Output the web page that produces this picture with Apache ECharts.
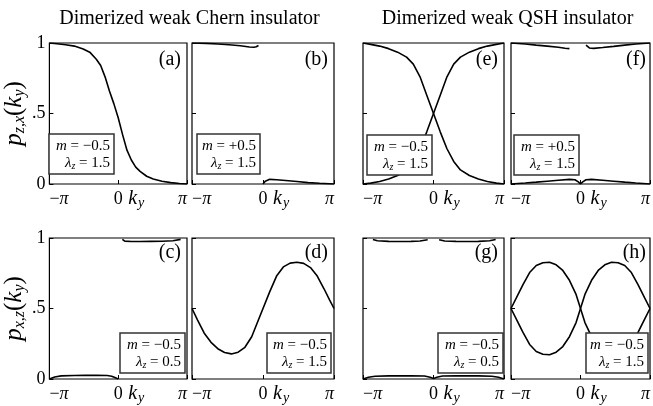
<!DOCTYPE html>
<html><head><meta charset="utf-8">
<script src="https://cdn.jsdelivr.net/npm/echarts@6/dist/echarts.min.js"></script>
<style>html,body{margin:0;padding:0;background:#fff}#c{width:653px;height:406px}</style>
</head><body><div id="c"></div>
<script>
// ---------- data ----------
const titles = ['Dimerized weak Chern insulator', 'Dimerized weak QSH insulator'];
const panelLabels = ['(a)', '(b)', '(e)', '(f)', '(c)', '(d)', '(g)', '(h)'];
const boxM = ['−0.5', '+0.5', '−0.5', '+0.5', '−0.5', '−0.5', '−0.5', '−0.5'];
const boxL = ['1.5', '1.5', '1.5', '1.5', '0.5', '1.5', '0.5', '1.5'];
const yTickLabels = {0: '0', 0.5: '.5', 1: '1'};

// (a)
const aK = [-3.1416, -2.8, -2.4, -2.0, -1.6, -1.3, -1.0, -0.8, -0.6, -0.4, -0.2, 0, 0.2, 0.4, 0.6, 0.8, 1.0, 1.3, 1.6, 2.0, 2.4, 2.8, 3.1416];
const aV = [1.0, 0.995, 0.988, 0.978, 0.958, 0.935, 0.885, 0.84, 0.76, 0.66, 0.57, 0.47, 0.35, 0.24, 0.17, 0.12, 0.09, 0.055, 0.035, 0.02, 0.01, 0.004, 0.0];
// (b)
const bTopK = [-3.1416, -2.5, -2.0, -1.5, -1.0, -0.6, -0.4, -0.3, -0.2];
const bTopV = [1.0, 0.997, 0.993, 0.988, 0.98, 0.972, 0.97, 0.973, 0.982];
const bBotK = [0.0, 0.1, 0.3, 0.6, 1.0, 1.5, 2.0, 2.5, 3.1416];
const bBotV = [0.0, 0.02, 0.033, 0.03, 0.025, 0.018, 0.01, 0.005, 0.0];
// (e)
const eK = [-3.1416, -2.8, -2.4, -2.0, -1.6, -1.2, -0.9, -0.6, -0.3, 0, 0.3, 0.6, 0.9, 1.2, 1.6, 2.0, 2.4, 2.8, 3.1416];
const eDown = [1.0, 0.99, 0.978, 0.96, 0.935, 0.9, 0.85, 0.76, 0.63, 0.5, 0.37, 0.25, 0.16, 0.1, 0.06, 0.035, 0.018, 0.006, 0.0];
const eUp = [0.0, 0.006, 0.018, 0.035, 0.06, 0.1, 0.16, 0.25, 0.37, 0.5, 0.63, 0.76, 0.85, 0.9, 0.935, 0.96, 0.978, 0.99, 1.0];
// (f)
const fTop1K = [-3.1416, -2.5, -2.0, -1.5, -1.0, -0.7, -0.5];
const fTop1V = [1.0, 0.993, 0.985, 0.978, 0.97, 0.963, 0.96];
const fTop2K = [0.25, 0.4, 0.6, 1.0, 1.5, 2.0, 2.5, 3.1416];
const fTop2V = [0.985, 0.965, 0.962, 0.968, 0.976, 0.985, 0.993, 1.0];
const fBotK = [-3.1416, -2.5, -2.0, -1.5, -1.0, -0.5, -0.25, -0.1, 0, 0.1, 0.25, 0.5, 1.0, 1.5, 2.0, 2.5, 3.1416];
const fBotV = [0.0, 0.007, 0.013, 0.02, 0.027, 0.033, 0.03, 0.015, 0.0, 0.015, 0.03, 0.033, 0.027, 0.02, 0.013, 0.007, 0.0];
// (c)
const cBotK = [-3.1416, -2.9, -2.6, -2.0, -1.5, -1.0, -0.5, -0.3, -0.15, 0];
const cBotV = [0.0, 0.014, 0.022, 0.025, 0.026, 0.026, 0.025, 0.02, 0.01, 0.0];
const cTopK = [0.19, 0.3, 0.6, 1.0, 1.5, 2.0, 2.5, 2.85];
const cTopV = [0.99, 0.978, 0.975, 0.975, 0.976, 0.977, 0.98, 0.99];
// (d)
const dK = [-3.1416, -2.9, -2.6, -2.3, -2.0, -1.7, -1.4, -1.1, -0.8, -0.5, -0.2, 0, 0.3, 0.6, 0.9, 1.2, 1.5, 1.8, 2.1, 2.4, 2.7, 2.95, 3.1416];
const dV = [0.5, 0.42, 0.325, 0.26, 0.215, 0.188, 0.178, 0.19, 0.225, 0.3, 0.42, 0.5, 0.62, 0.73, 0.795, 0.822, 0.828, 0.82, 0.79, 0.73, 0.64, 0.56, 0.5];
// (g)
const gTop1K = [-2.7, -2.5, -2.0, -1.5, -1.0, -0.6, -0.26];
const gTop1V = [0.99, 0.981, 0.976, 0.975, 0.976, 0.979, 0.988];
const gTop2K = [0.25, 0.5, 1.0, 1.5, 2.0, 2.5, 2.77];
const gTop2V = [0.988, 0.979, 0.976, 0.975, 0.976, 0.981, 0.99];
const gBotK = [-3.1416, -2.9, -2.6, -2.0, -1.0, -0.4, -0.15, 0, 0.15, 0.4, 1.0, 2.0, 2.6, 2.9, 3.1416];
const gBotV = [0.0, 0.012, 0.02, 0.022, 0.022, 0.021, 0.012, 0.004, 0.012, 0.021, 0.022, 0.022, 0.02, 0.012, 0.0];
// (h)
const hK = [-3.1416, -2.9, -2.6, -2.3, -2.0, -1.7, -1.4, -1.1, -0.8, -0.5, -0.2, 0, 0.2, 0.5, 0.8, 1.1, 1.4, 1.7, 2.0, 2.3, 2.6, 2.9, 3.1416];
const hA = [0.5, 0.575, 0.67, 0.755, 0.805, 0.825, 0.828, 0.81, 0.77, 0.7, 0.6, 0.5, 0.4, 0.3, 0.23, 0.19, 0.172, 0.175, 0.195, 0.245, 0.33, 0.425, 0.5];
const hB = [0.5, 0.425, 0.33, 0.245, 0.195, 0.175, 0.172, 0.19, 0.23, 0.3, 0.4, 0.5, 0.6, 0.7, 0.77, 0.81, 0.828, 0.825, 0.805, 0.755, 0.67, 0.575, 0.5];

// ---------- layout ----------
const SERIF = '"Liberation Serif", "DejaVu Serif", serif';
const grids = [
  {left: 45, top: 43, width: 142, height: 141},
  {left: 192, top: 43, width: 142, height: 141},
  {left: 363, top: 43, width: 141, height: 141},
  {left: 511, top: 43, width: 141, height: 141},
  {left: 45, top: 238, width: 142, height: 141},
  {left: 192, top: 238, width: 142, height: 141},
  {left: 363, top: 238, width: 141, height: 141},
  {left: 511, top: 238, width: 141, height: 141}
];
const boxes = [
  [49, 134, 65, 40], [197, 134, 63, 40], [367, 135, 65, 40], [514, 135, 65, 40],
  [120, 333, 65, 40], [267, 333, 64, 40], [438, 333, 65, 40], [586, 333, 62, 40]
];
const curves = [
  [[aK, aV]],
  [[bTopK, bTopV], [bBotK, bBotV]],
  [[eK, eDown], [eK, eUp]],
  [[fTop1K, fTop1V], [fTop2K, fTop2V], [fBotK, fBotV]],
  [[cBotK, cBotV], [cTopK, cTopV]],
  [[dK, dV]],
  [[gTop1K, gTop1V], [gTop2K, gTop2V], [gBotK, gBotV]],
  [[hK, hA], [hK, hB]]
];
const yNames = {0: 'z,x', 4: 'x,z'};

const zip = (k, v) => k.map((x, i) => [x, v[i]]);
const PI = Math.PI;

const xAxes = grids.map((g, i) => ({
  gridIndex: i, type: 'value', min: -PI, max: PI, interval: PI,
  axisLine: {show: false, onZero: false}, splitLine: {show: false},
  axisTick: {inside: true, length: 4, lineStyle: {color: '#000', width: 1}},
  axisLabel: {
    margin: 4, alignMinLabel: 'left', alignMaxLabel: 'right', color: '#000',
    formatter: v => v < -3 ? '{n|−}{p|π}' : (v > 3 ? '{p|π}' : '{pre|}{n|0}{sp|}{k|k}{s|y}'),
    rich: {
      n: {fontFamily: SERIF, fontSize: 18, lineHeight: 22, color: '#000'},
      p: {fontFamily: SERIF, fontSize: 18, fontStyle: 'italic', lineHeight: 22, color: '#000'},
      pre: {width: 22},
      sp: {width: 5},
      k: {fontFamily: SERIF, fontSize: 20, fontStyle: 'italic', lineHeight: 22, width: 10, color: '#000'},
      s: {fontFamily: SERIF, fontSize: 14, fontStyle: 'italic', lineHeight: 12, padding: [9, 0, 0, 0], width: 7, color: '#000'}
    }
  }
}));
const yAxes = grids.map((g, i) => ({
  gridIndex: i, type: 'value', min: 0, max: 1, interval: 0.5,
  axisLine: {show: false, onZero: false}, splitLine: {show: false},
  axisTick: {inside: true, length: 4, lineStyle: {color: '#000', width: 1}},
  axisLabel: {
    show: (i === 0 || i === 4), margin: 4, color: '#000',
    fontFamily: SERIF, fontSize: 18,
    formatter: v => yTickLabels[v]
  },
  name: yNames[i] ? '{p|p}{s|' + yNames[i] + '}{t|(}{k|k}{s|y}{t|)}' : '',
  nameLocation: 'middle', nameRotate: 90, nameGap: 13,
  nameTextStyle: {
    rich: {
      p: {fontFamily: SERIF, fontSize: 25, fontStyle: 'italic', lineHeight: 26, color: '#000'},
      t: {fontFamily: SERIF, fontSize: 25, lineHeight: 26, color: '#000'},
      k: {fontFamily: SERIF, fontSize: 25, fontStyle: 'italic', lineHeight: 26, color: '#000'},
      s: {fontFamily: SERIF, fontSize: 16, fontStyle: 'italic', lineHeight: 16, padding: [11, 0, 0, 0], color: '#000'}
    }
  }
}));
const series = [];
curves.forEach((list, i) => list.forEach(([k, v]) => series.push({
  type: 'line', xAxisIndex: i, yAxisIndex: i, data: zip(k, v),
  showSymbol: false, symbol: 'none', smooth: false, silent: true,
  lineStyle: {color: '#000', width: 1.6}, z: 2
})));

const graphic = [];
[[0, 1], [2, 3]].forEach(([l, r], j) => {
  const cx = (grids[l].left + grids[r].left + grids[r].width) / 2;
  graphic.push({type: 'text', x: cx, y: 19, z: 10,
    style: {text: titles[j], font: '20px ' + SERIF, fill: '#000', align: 'center', verticalAlign: 'middle'}});
});
grids.forEach((g, i) => {
  graphic.push({type: 'text', x: g.left + g.width - 6, y: g.top + (i < 4 ? 17 : 15), z: 10,
    style: {text: panelLabels[i], font: '20px ' + SERIF, fill: '#000', align: 'right', verticalAlign: 'middle'}});
  const [bx, by, bw, bh] = boxes[i];
  graphic.push({type: 'rect', z: 20, shape: {x: bx, y: by, width: bw, height: bh},
    style: {fill: '#fff', stroke: '#333', lineWidth: 1.5}});
  graphic.push({type: 'text', z: 21, x: bx + bw - 4, y: by + 12,
    style: {text: '{i|m}{r| = ' + boxM[i] + '}', align: 'right', verticalAlign: 'middle', fill: '#000',
      rich: {i: {fontFamily: SERIF, fontSize: 15, fontStyle: 'italic', fill: '#000'},
             r: {fontFamily: SERIF, fontSize: 15, fill: '#000'}}}});
  graphic.push({type: 'text', z: 21, x: bx + bw - 4, y: by + 29,
    style: {text: '{i|λ}{s|z}{r| = ' + boxL[i] + '}', align: 'right', verticalAlign: 'middle', fill: '#000',
      rich: {i: {fontFamily: SERIF, fontSize: 15, fontStyle: 'italic', fill: '#000', lineHeight: 16},
             s: {fontFamily: SERIF, fontSize: 10, fontStyle: 'italic', fill: '#000', lineHeight: 10, padding: [7, 0, 0, 0]},
             r: {fontFamily: SERIF, fontSize: 15, fill: '#000', lineHeight: 16}}}});
});

const chart = echarts.init(document.getElementById('c'), null, {renderer: 'canvas'});
chart.setOption({
  animation: false,
  backgroundColor: '#fff',
  grid: grids.map(g => Object.assign({show: true, borderColor: '#000', borderWidth: 1.2, backgroundColor: 'transparent', containLabel: false}, g)),
  xAxis: xAxes,
  yAxis: yAxes,
  series: series,
  graphic: graphic
});
</script>
</body></html>
